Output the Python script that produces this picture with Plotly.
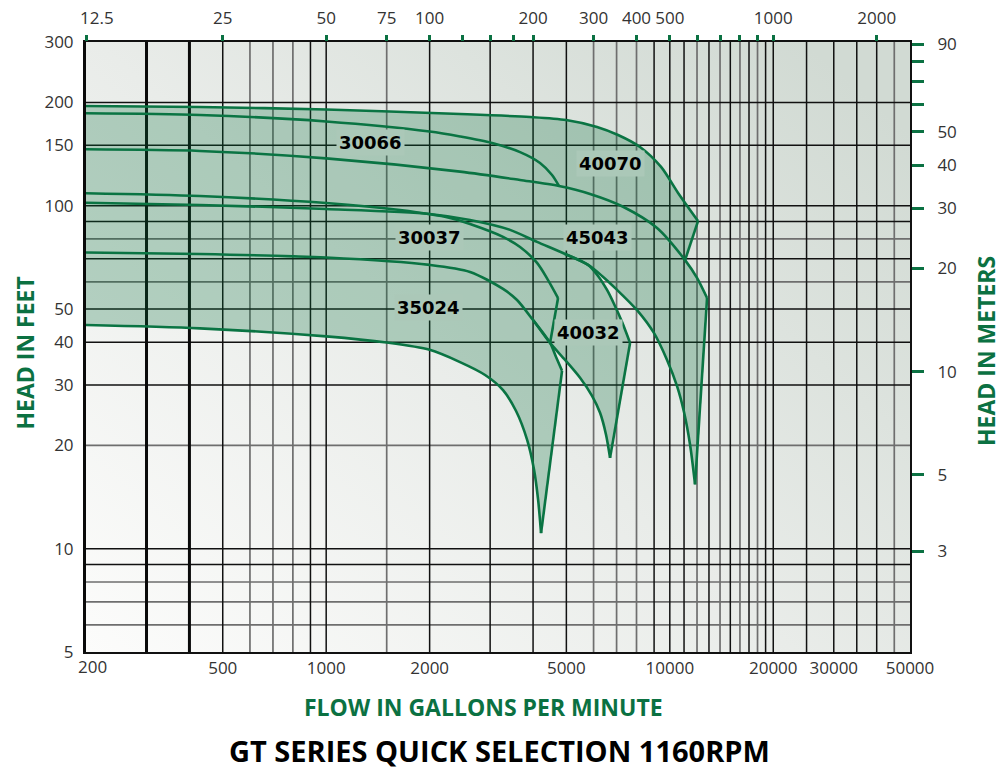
import base64
import numpy as np
import plotly.graph_objects as go

# ---------------- axis ticks ----------------
flow_ticks = [200, 500, 1000, 2000, 5000, 10000, 20000, 30000, 50000]
flow_tick_labels = ["", "500", "1000", "2000", "5000", "10000", "20000", "30000", "50000"]
top_tick_gpm = [200, 500, 1000, 1500, 2000, 2500, 3000, 3500, 4000, 6000, 8000,
                10000, 12000, 14000, 16000, 18000, 20000, 40000]
top_tick_labels = ["", "25", "50", "75", "100", "", "", "", "200", "300", "400",
                   "500", "", "", "", "", "1000", "2000"]
first_flow_label = "200"
first_top_label = "12.5"
head_ft_ticks = [5, 10, 20, 30, 40, 50, 100, 150, 200, 300]
head_m_ticks = [3, 5, 10, 20, 30, 40, 50, 60, 70, 80, 90]
head_m_labels = ["3", "5", "10", "20", "30", "40", "50", "", "", "", "90"]
FT_PER_M = 3.28084

# ---------------- grid positions ----------------
x_grid_thick = [300, 400]
x_grid_dark = [500, 900, 1000, 2000, 3000, 4000, 5000, 9000, 10000, 11000, 13000,
               15000, 17000, 19000, 20000, 25000, 30000, 35000, 40000]
x_grid_grey = [600, 700, 800, 1500, 6000, 7000, 8000, 12000, 14000, 16000, 18000, 45000]
y_grid_dark = [200, 150, 100, 90, 70, 50, 40, 30, 10, 9]
y_grid_grey = [80, 60, 20, 8, 7, 6]

# ---------------- pump curves (gpm, ft) ----------------
# 40070 max impeller
t1_gpm = [200, 429, 1000, 2452, 3920, 4990, 6140, 7070, 8190, 9430, 10570, 12080]
t1_ft = [195.2, 193.9, 190.7, 185.0, 181.3, 177.7, 169.6, 160.7, 148.3, 129.7, 108.9, 90.2]
# 30066 max impeller (joins the 146 ft curve)
s1_gpm = [200, 429, 1000, 2000, 2452, 3038, 3666, 4191, 4542, 4760]
s1_ft = [185.9, 183.8, 176.0, 164.5, 159.1, 152.3, 143.3, 133.2, 122.9, 114.1]
# 30066 / 40070 min impeller, 45043 max impeller
c146_gpm = [200, 429, 1000, 2452, 3666, 4760, 5860, 7310, 9180, 11076, 12000, 12836]
c146_ft = [146.0, 144.4, 137.4, 125.7, 118.8, 114.1, 108.2, 99.3, 86.1, 69.4, 61.6, 53.8]
# 30037 max impeller
a_gpm = [200, 429, 1000, 1640, 2293, 2622, 3271, 3666, 4108, 4422, 4729]
a_ft = [108.7, 106.7, 101.8, 97.1, 92.1, 88.4, 81.1, 75.8, 68.1, 60.7, 53.8]
# shared 40032 max / 45043 min
b_gpm = [200, 429, 1000, 2000, 2622, 3428, 4108, 4957, 5782]
b_ft = [102.0, 100.5, 97.8, 94.6, 90.8, 85.0, 78.4, 72.3, 67.2]
b40032_gpm = [6182, 6566, 6882, 7262, 7662]
b40032_ft = [62.4, 56.8, 51.7, 45.8, 39.8]
b45043_gpm = [6350, 6974, 8028, 8998, 9816, 10496, 11002, 11454, 11842]
b45043_ft = [62.4, 57.2, 49.6, 42.5, 35.5, 29.8, 25.0, 20.1, 15.4]
# 40032 / 30037 min impeller, start of 35024 max
c_gpm = [200, 429, 1000, 2000, 2622, 3271, 3592, 4000, 4482, 4957, 5480, 5938, 6266, 6522, 6700]
c_ft = [73.0, 72.3, 70.6, 67.2, 64.1, 57.2, 53.1, 46.4, 39.8, 35.5, 31.5, 27.9, 24.9, 21.5, 18.4]
c35024_gpm = [4666, 4857]
c35024_ft = [36.2, 33.0]
# 35024 min impeller
d_gpm = [200, 429, 1000, 1500, 2000, 2452, 2900, 3271, 3569, 3842, 4026, 4137, 4220]
d_ft = [44.9, 43.9, 41.6, 39.9, 38.0, 35.0, 32.1, 29.0, 25.2, 20.8, 17.0, 13.9, 11.1]

# pump labels
label_names = ["30066", "40070", "30037", "45043", "35024", "40032"]
label_gpm = [1342, 6700, 2000, 6180, 1980, 5780]
label_ft = [153, 133, 80.5, 80.5, 50.5, 42.8]

GREEN = "#0b7142"
LINE_GREEN = "#0a7443"
FILL = "rgba(8,112,58,0.27)"

fig = go.Figure()

# background gradient
svg = ('<svg xmlns="http://www.w3.org/2000/svg" width="100" height="100" viewBox="0 0 100 100" '
       'preserveAspectRatio="none"><defs><linearGradient id="g" x1="0" y1="1" x2="1" y2="0.15">'
       '<stop offset="0" stop-color="#fcfcfb"/><stop offset="0.5" stop-color="#e9ece9"/>'
       '<stop offset="1" stop-color="#d1dad3"/></linearGradient></defs>'
       '<rect width="100" height="100" fill="url(#g)"/></svg>')
src = "data:image/svg+xml;base64," + base64.b64encode(svg.encode()).decode()

ymin, ymax = 5, 300
xmin, xmax = 200, 50000


def vlines(vals):
    xs, ys = [], []
    for v in vals:
        xs += [v, v, None]
        ys += [ymin, ymax, None]
    return xs, ys


def hlines(vals):
    xs, ys = [], []
    for v in vals:
        xs += [xmin, xmax, None]
        ys += [v, v, None]
    return xs, ys


for vals, fn, color, width in [
    (x_grid_grey, vlines, "#6e6e6e", 1.7),
    (y_grid_grey, hlines, "#6e6e6e", 1.7),
    (x_grid_dark, vlines, "#111111", 1.5),
    (y_grid_dark, hlines, "#111111", 1.5),
    (x_grid_thick, vlines, "#0a0a0a", 3),
]:
    gx, gy = fn(vals)
    fig.add_trace(go.Scatter(x=gx, y=gy, mode="lines", line=dict(color=color, width=width),
                             hoverinfo="skip", showlegend=False))

# ---------------- filled coverage (one path, same winding) ----------------
def poly(top_x, top_y, bot_x, bot_y):
    return list(top_x) + list(bot_x[::-1]) + [None], list(top_y) + list(bot_y[::-1]) + [None]


def upto(xs, ys, lim):
    px = [x for x in xs if x <= lim]
    return px, ys[:len(px)]


polys = []
cx, cy = upto(c146_gpm, c146_ft, 11076)
polys.append(poly(t1_gpm, t1_ft, cx, cy))                              # 40070
cx, cy = upto(c146_gpm, c146_ft, 4759)
polys.append(poly(s1_gpm, s1_ft, cx, cy))                              # 30066
polys.append(poly(c146_gpm, c146_ft, b_gpm + b45043_gpm, b_ft + b45043_ft))  # 45043
polys.append(poly(b_gpm + b40032_gpm, b_ft + b40032_ft, c_gpm, c_ft))  # 40032
cx, cy = upto(c_gpm, c_ft, 4482)
polys.append(poly(a_gpm, a_ft, cx, cy))                                # 30037
polys.append(poly(cx + c35024_gpm, cy + c35024_ft, d_gpm, d_ft))       # 35024
fx, fy = [], []
for px, py in polys:
    fx += px
    fy += py
fig.add_trace(go.Scatter(x=fx, y=fy, mode="lines", fill="toself", fillcolor=FILL,
                         line=dict(width=0), hoverinfo="skip", showlegend=False))

# ---------------- curve lines ----------------
def add_line(xs, ys, shape="spline"):
    fig.add_trace(go.Scatter(x=xs, y=ys, mode="lines",
                             line=dict(color=LINE_GREEN, width=2.6, shape=shape, smoothing=0.8),
                             hoverinfo="skip", showlegend=False))


add_line(t1_gpm, t1_ft)
add_line([t1_gpm[-1], 11076], [t1_ft[-1], 69.4], "linear")
add_line(s1_gpm, s1_ft)
add_line(c146_gpm, c146_ft)
add_line([c146_gpm[-1], b45043_gpm[-1]], [c146_ft[-1], b45043_ft[-1]], "linear")
add_line(b_gpm + b45043_gpm, b_ft + b45043_ft)
add_line(b_gpm[-2:] + b40032_gpm, b_ft[-2:] + b40032_ft)
add_line([b40032_gpm[-1], c_gpm[-1]], [b40032_ft[-1], c_ft[-1]], "linear")
add_line(c_gpm, c_ft)
add_line(a_gpm, a_ft)
add_line([a_gpm[-1], 4482], [a_ft[-1], 39.8], "linear")
add_line([4000, 4482] + c35024_gpm, [46.4, 39.8] + c35024_ft)
add_line([c35024_gpm[-1], d_gpm[-1]], [c35024_ft[-1], d_ft[-1]], "linear")
add_line(d_gpm, d_ft)

# dummy traces to activate secondary axes
fig.add_trace(go.Scatter(x=[1000], y=[10], xaxis="x2", yaxis="y", mode="markers",
                         marker=dict(opacity=0, size=1), hoverinfo="skip", showlegend=False))
fig.add_trace(go.Scatter(x=[1000], y=[3], xaxis="x", yaxis="y2", mode="markers",
                         marker=dict(opacity=0, size=1), hoverinfo="skip", showlegend=False))

tickfont = dict(family="Open Sans", size=17, color="#333333")

fig.update_layout(
    width=1001, height=771, autosize=False,
    margin=dict(l=86, r=91, t=42, b=119, autoexpand=False),
    paper_bgcolor="white", plot_bgcolor="rgba(0,0,0,0)",
    showlegend=False,
    images=[dict(source=src, xref="paper", yref="paper", x=0, y=1, sizex=1, sizey=1,
                 sizing="stretch", layer="below", xanchor="left", yanchor="top")],
    xaxis=dict(type="log", range=[np.log10(xmin), np.log10(xmax)], tickvals=flow_ticks,
               ticktext=flow_tick_labels, showgrid=False, zeroline=False, ticks="",
               showline=True, linecolor="#111", linewidth=2, mirror=True, automargin=False,
               tickfont=tickfont, ticklabelstandoff=0),
    xaxis2=dict(type="log", range=[np.log10(xmin), np.log10(xmax)], overlaying="x", side="top",
                anchor="y", tickvals=top_tick_gpm, ticktext=top_tick_labels, showgrid=False,
                zeroline=False, ticks="outside", ticklen=6, tickwidth=3, tickcolor=GREEN,
                showline=False, tickfont=tickfont, ticklabelstandoff=4, automargin=False),
    yaxis=dict(type="log", range=[np.log10(ymin), np.log10(ymax)], tickvals=head_ft_ticks,
               ticktext=[str(v) for v in head_ft_ticks], showgrid=False, zeroline=False,
               ticks="", showline=True, linecolor="#0a0a0a", linewidth=3, automargin=False,
               tickfont=tickfont, ticklabelstandoff=6),
    yaxis2=dict(type="log", range=[np.log10(ymin / FT_PER_M), np.log10(ymax / FT_PER_M)],
                overlaying="y", side="right", anchor="x", tickvals=head_m_ticks,
                ticktext=head_m_labels, showgrid=False, zeroline=False, ticks="outside",
                ticklen=12, tickwidth=3, tickcolor=GREEN, showline=True, linecolor="#111",
                linewidth=2, tickfont=tickfont, ticklabelstandoff=10, automargin=False),
)

annotations = []
for name, gx, hy in zip(label_names, label_gpm, label_ft):
    annotations.append(dict(x=np.log10(gx), y=np.log10(hy), xref="x", yref="y", text=name,
                            showarrow=False, bgcolor="#abc8b8", borderpad=2,
                            font=dict(family="DejaVu Sans", size=18, color="black", weight="bold")))

# first labels of both flow scales sit slightly right of the corner in the reference
annotations += [
    dict(text=first_flow_label, x=6 / 824, y=-14 / 610, xref="paper", yref="paper",
         showarrow=False, xanchor="center", yanchor="middle", font=tickfont),
    dict(text=first_top_label, x=11 / 824, y=1 + 25 / 610, xref="paper", yref="paper",
         showarrow=False, xanchor="center", yanchor="middle", font=tickfont),
]

title_font = dict(family="Open Sans", color=GREEN, size=23, weight="bold")
annotations += [
    dict(text="FLOW IN GALLONS PER MINUTE", x=0.483, y=-0.09, xref="paper", yref="paper",
         showarrow=False, font=title_font, xanchor="center", yanchor="middle"),
    dict(text="HEAD IN FEET", x=-0.0735, y=0.49, xref="paper", yref="paper", textangle=-90,
         showarrow=False, font=title_font, xanchor="center", yanchor="middle"),
    dict(text="HEAD IN METERS", x=1.092, y=0.493, xref="paper", yref="paper", textangle=-90,
         showarrow=False, font=title_font, xanchor="center", yanchor="middle"),
    dict(text="GT SERIES QUICK SELECTION 1160RPM", x=0.502, y=-0.1607, xref="paper",
         yref="paper", showarrow=False, xanchor="center", yanchor="middle",
         font=dict(family="Open Sans", color="black", size=29, weight="bold")),
]
fig.update_layout(annotations=annotations)

fig.write_html("out.html", config={"displayModeBar": False},
               post_script="document.body.style.margin='0';document.body.style.overflow='hidden';")
